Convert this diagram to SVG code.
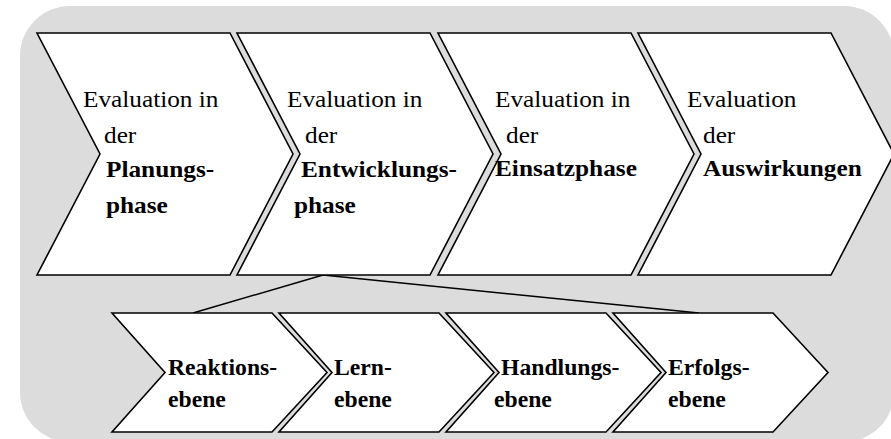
<svg xmlns="http://www.w3.org/2000/svg" width="891" height="439" viewBox="0 0 891 439">
<style>
.bg{fill:#dcdcdc}
.chev{fill:#ffffff;stroke:#000000;stroke-width:1.6;stroke-linejoin:miter}
.t{font-family:"Liberation Serif","Times New Roman",serif;font-size:23px;fill:#000}
.b{font-weight:bold}
.conn{fill:none;stroke:#000;stroke-width:1.5}
</style>
<rect class="bg" x="20" y="6" width="874" height="436" rx="50" ry="50"/>
<g id="connectors">
<path class="conn" d="M323,275 L193,313"/>
<path class="conn" d="M323,275 L699,313"/>
</g>
<g id="phase1">
<polygon class="chev" points="37,33 230,33 293,154 230,275 37,275 100,154"/>
<text class="t" transform="translate(83,107) scale(1.1,1)">Evaluation in</text>
<text class="t" transform="translate(104,143) scale(1.1,1)">der</text>
<text class="t b" transform="translate(106,177) scale(1.1,1)">Planungs-</text>
<text class="t b" transform="translate(106,213) scale(1.1,1)">phase</text>
</g>
<g id="phase2">
<polygon class="chev" points="237,33 430,33 493,154 430,275 237,275 300,154"/>
<text class="t" transform="translate(287,107) scale(1.1,1)">Evaluation in</text>
<text class="t" transform="translate(305,143) scale(1.1,1)">der</text>
<text class="t b" transform="translate(301,177) scale(1.1,1)">Entwicklungs-</text>
<text class="t b" transform="translate(294,213) scale(1.1,1)">phase</text>
</g>
<g id="phase3">
<polygon class="chev" points="438,33 631,33 694,154 631,275 438,275 501,154"/>
<text class="t" transform="translate(495,107) scale(1.1,1)">Evaluation in</text>
<text class="t" transform="translate(506,143) scale(1.1,1)">der</text>
<text class="t b" transform="translate(495,176) scale(1.1,1)">Einsatzphase</text>
</g>
<g id="phase4">
<polygon class="chev" points="638,33 831,33 894,154 831,275 638,275 701,154"/>
<text class="t" transform="translate(687,107) scale(1.1,1)">Evaluation</text>
<text class="t" transform="translate(703,143) scale(1.1,1)">der</text>
<text class="t b" transform="translate(703,176) scale(1.1,1)">Auswirkungen</text>
</g>
<g id="level1">
<polygon class="chev" points="112,313 272,313 327,372.5 272,432 112,432 165,372.5"/>
<text class="t b" transform="translate(168,375) scale(1.03,1)">Reaktions-</text>
<text class="t b" transform="translate(168,407) scale(1.03,1)">ebene</text>
</g>
<g id="level2">
<polygon class="chev" points="279,313 439,313 494,372.5 439,432 279,432 332,372.5"/>
<text class="t b" transform="translate(334,375) scale(1.03,1)">Lern-</text>
<text class="t b" transform="translate(334,407) scale(1.03,1)">ebene</text>
</g>
<g id="level3">
<polygon class="chev" points="446,313 606,313 661,372.5 606,432 446,432 499,372.5"/>
<text class="t b" transform="translate(501,375) scale(1.03,1)">Handlungs-</text>
<text class="t b" transform="translate(494,407) scale(1.03,1)">ebene</text>
</g>
<g id="level4">
<polygon class="chev" points="613,313 773,313 828,372.5 773,432 613,432 666,372.5"/>
<text class="t b" transform="translate(668,375) scale(1.03,1)">Erfolgs-</text>
<text class="t b" transform="translate(668,407) scale(1.03,1)">ebene</text>
</g>
</svg>
